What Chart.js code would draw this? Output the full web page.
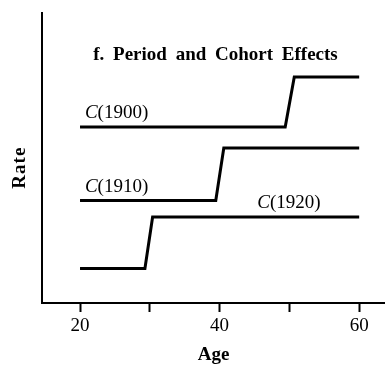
<!DOCTYPE html>
<html><head><meta charset="utf-8">
<script src="https://cdn.jsdelivr.net/npm/chart.js@4/dist/chart.umd.min.js"></script>
<style>html,body{margin:0;padding:0;background:#fff;} canvas{display:block;}</style>
</head><body>
<canvas id="c" width="385" height="366"></canvas>
<script>
const seriesNames = ['C(1900)', 'C(1910)', 'C(1920)'];
const ages_1900 = [20, 49.4, 50.7, 60];
const rates_1900 = [17.6, 17.6, 22.6, 22.6];
const ages_1910 = [20, 39.45, 40.6, 60];
const rates_1910 = [10.25, 10.25, 15.5, 15.5];
const ages_1920 = [20, 29.3, 30.4, 60];
const rates_1920 = [3.45, 3.45, 8.6, 8.6];
const labelAges = [20.7, 20.7, 45.4];
const labelRates = [17.6, 10.25, 8.6];
const xTickValues = [20, 30, 40, 50, 60];
const xTickLabels = ['20', '', '40', '', '60'];
const chartTitle = 'f. Period and Cohort Effects';
const xTitle = 'Age';
const yTitle = 'Rate';

const SERIF = '"Liberation Serif", "Times New Roman", serif';
const toPts = (xs, ys) => xs.map((v, i) => ({x: v, y: ys[i]}));
const lineStyle = {borderColor: '#000', borderWidth: 3, pointRadius: 0, tension: 0, fill: false,
  borderCapStyle: 'butt', borderJoinStyle: 'miter'};

const textPlugin = {
  id: 'texts',
  afterDatasetsDraw(chart) {
    const {ctx, chartArea: a, scales: {x, y}} = chart;
    ctx.save();
    ctx.fillStyle = '#000';
    ctx.textAlign = 'left';
    ctx.textBaseline = 'alphabetic';
    seriesNames.forEach((n, i) => {
      const px = x.getPixelForValue(labelAges[i]);
      const py = y.getPixelForValue(labelRates[i]) - 9;
      ctx.font = 'italic 19px ' + SERIF;
      ctx.fillText(n.charAt(0), px, py);
      const w = ctx.measureText(n.charAt(0)).width;
      ctx.font = '19px ' + SERIF;
      ctx.fillText(n.slice(1), px + w, py);
    });
    // title
    ctx.font = 'bold 19px ' + SERIF;
    ctx.textAlign = 'center';
    try { ctx.wordSpacing = '4px'; } catch (e) {}
    ctx.fillText(chartTitle, a.left + a.width / 2 + 2, a.top + 47);
    try { ctx.wordSpacing = '0px'; } catch (e) {}
    // y title
    ctx.save();
    ctx.translate(20, a.top + (a.bottom - a.top) * 0.535);
    ctx.rotate(-Math.PI / 2);
    ctx.font = 'bold 19px ' + SERIF;
    ctx.textBaseline = 'middle';
    ctx.textAlign = 'center';
    try { ctx.letterSpacing = '1px'; } catch (e) {}
    ctx.fillText(yTitle, 0.5, 0);
    ctx.restore();
    ctx.restore();
  }
};

new Chart(document.getElementById('c'), {
  type: 'line',
  data: {
    datasets: [
      Object.assign({label: seriesNames[0], data: toPts(ages_1900, rates_1900)}, lineStyle),
      Object.assign({label: seriesNames[1], data: toPts(ages_1910, rates_1910)}, lineStyle),
      Object.assign({label: seriesNames[2], data: toPts(ages_1920, rates_1920)}, lineStyle)
    ]
  },
  options: {
    responsive: false,
    animation: false,
    layout: {padding: {top: 13, right: 0, bottom: 0, left: 0}},
    plugins: {legend: {display: false}, tooltip: {enabled: false}, title: {display: false}},
    scales: {
      x: {
        type: 'linear',
        min: 14.55,
        max: 63.7,
        afterBuildTicks: s => { s.ticks = xTickValues.map(v => ({value: v})); },
        afterFit: s => { s.height = 63; },
        ticks: {
          color: '#000',
          padding: 3,
          maxRotation: 0,
          autoSkip: false,
          font: {family: SERIF, size: 19},
          callback: v => { const i = xTickValues.indexOf(v); return i >= 0 ? xTickLabels[i] : ''; }
        },
        grid: {display: true, drawOnChartArea: false, drawTicks: true, tickLength: 9, tickColor: '#000', tickWidth: 2},
        border: {display: true, color: '#000', width: 2},
        title: {display: true, text: xTitle, color: '#000', font: {family: SERIF, size: 19, weight: 'bold'}, padding: {top: 0, bottom: 0}}
      },
      y: {
        type: 'linear',
        min: 0,
        max: 29,
        afterFit: s => { s.width = 42; },
        ticks: {display: false},
        grid: {display: false},
        border: {display: true, color: '#000', width: 2}
      }
    }
  },
  plugins: [textPlugin]
});
</script>
</body></html>
